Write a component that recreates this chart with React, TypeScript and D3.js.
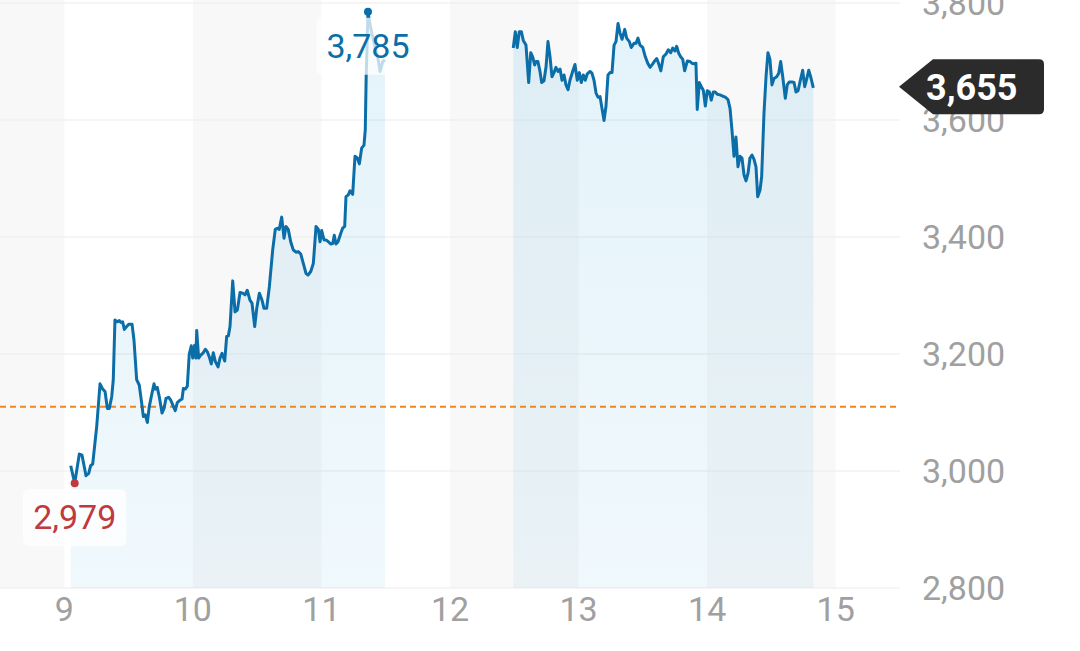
import React from 'react';
import * as d3 from 'd3';

// Session 1 (fractional day, price)
const seg1Time = [
  9.050, 9.081, 9.117, 9.138, 9.169, 9.190, 9.205, 9.221, 9.252, 9.278, 9.299, 9.317, 9.335, 9.350, 9.369, 9.381,
  9.394, 9.412, 9.428, 9.441, 9.454, 9.467, 9.485, 9.503, 9.527, 9.542, 9.563, 9.583, 9.602, 9.615, 9.630, 9.646,
  9.661, 9.682, 9.698, 9.708, 9.723, 9.739, 9.760, 9.776, 9.791, 9.812, 9.828, 9.848, 9.863, 9.879, 9.900, 9.916,
  9.926, 9.941, 9.957, 9.972, 9.988, 9.999, 10.014, 10.024, 10.030, 10.045, 10.061, 10.081, 10.097, 10.112, 10.128,
  10.143, 10.159, 10.175, 10.196, 10.211, 10.227, 10.248, 10.263, 10.276, 10.289, 10.310, 10.328, 10.346, 10.367,
  10.388, 10.406, 10.423, 10.444, 10.460, 10.481, 10.497, 10.517, 10.538, 10.553, 10.574, 10.595, 10.621, 10.641,
  10.657, 10.672, 10.691, 10.709, 10.724, 10.742, 10.761, 10.781, 10.802, 10.820, 10.839, 10.859, 10.880, 10.896,
  10.917, 10.937, 10.958, 10.976, 10.989, 11.002, 11.020, 11.036, 11.053, 11.072, 11.088, 11.100, 11.113, 11.129,
  11.150, 11.165, 11.181, 11.191, 11.209, 11.222, 11.243, 11.261, 11.279, 11.295, 11.313, 11.331, 11.341, 11.348,
  11.354, 11.362, 11.372, 11.391, 11.417, 11.442, 11.456, 11.477, 11.494,
];
const seg1Price = [
  3009, 2979, 3029, 3027, 2992, 2996, 3009, 3012, 3076, 3149, 3140, 3136, 3107, 3107, 3127, 3156,
  3258, 3255, 3257, 3254, 3255, 3242, 3247, 3251, 3251, 3224, 3156, 3147, 3116, 3093, 3096, 3083,
  3110, 3133, 3149, 3140, 3143, 3127, 3099, 3107, 3124, 3126, 3121, 3111, 3103, 3117, 3121, 3123,
  3141, 3140, 3145, 3200, 3214, 3193, 3215, 3193, 3240, 3193, 3198, 3202, 3208, 3204, 3195,
  3183, 3202, 3187, 3178, 3193, 3201, 3188, 3230, 3231, 3247, 3325, 3272, 3275, 3305,
  3304, 3301, 3309, 3292, 3287, 3247, 3278, 3304, 3292, 3278, 3278, 3315, 3378, 3413,
  3415, 3413, 3434, 3398, 3418, 3413, 3392, 3378, 3374, 3375, 3371, 3355, 3338, 3335,
  3341, 3355, 3418, 3413, 3392, 3411, 3395, 3395, 3392, 3388, 3389, 3403, 3388, 3392,
  3406, 3415, 3418, 3469, 3472, 3479, 3473, 3538, 3535, 3525, 3552, 3557, 3583, 3674,
  3720, 3785, 3771, 3749, 3725, 3703, 3683, 3700, 3703,
];

// Session 2
const seg2Time = [
  12.492, 12.508, 12.523, 12.539, 12.555, 12.570, 12.591, 12.612, 12.628, 12.643, 12.659, 12.669, 12.684, 12.700,
  12.713, 12.731, 12.747, 12.762, 12.778, 12.793, 12.809, 12.824, 12.840, 12.856, 12.871, 12.887, 12.902, 12.918,
  12.933, 12.954, 12.972, 12.990, 13.006, 13.021, 13.037, 13.052, 13.068, 13.089, 13.104, 13.120, 13.136, 13.151,
  13.167, 13.182, 13.198, 13.213, 13.229, 13.244, 13.260, 13.276, 13.291, 13.307, 13.322, 13.338, 13.359, 13.374,
  13.395, 13.410, 13.431, 13.447, 13.462, 13.478, 13.499, 13.519, 13.540, 13.556, 13.577, 13.592, 13.608, 13.623,
  13.640, 13.659, 13.680, 13.698, 13.717, 13.732, 13.750, 13.763, 13.779, 13.794, 13.810, 13.825, 13.846, 13.867,
  13.882, 13.898, 13.913, 13.923, 13.939, 13.955, 13.970, 13.986, 14.001, 14.017, 14.032, 14.048, 14.063, 14.079,
  14.100, 14.121, 14.141, 14.162, 14.178, 14.193, 14.209, 14.224, 14.240, 14.256, 14.271, 14.287, 14.302, 14.318,
  14.333, 14.349, 14.364, 14.380, 14.393, 14.411, 14.424, 14.442, 14.458, 14.473, 14.489, 14.504, 14.520, 14.541,
  14.557, 14.572, 14.588, 14.608, 14.623, 14.639, 14.660, 14.676, 14.691, 14.707, 14.722, 14.743, 14.759, 14.774,
  14.790, 14.805, 14.826,
];
const seg2Price = [
  3723, 3751, 3724, 3751, 3751, 3736, 3728, 3664, 3715, 3708, 3694, 3700, 3700, 3683,
  3664, 3667, 3691, 3734, 3708, 3674, 3681, 3690, 3683, 3687, 3668, 3677, 3660, 3652,
  3668, 3683, 3695, 3668, 3681, 3664, 3677, 3668, 3679, 3683, 3680, 3668, 3646, 3639,
  3640, 3620, 3599, 3623, 3677, 3681, 3681, 3728, 3734, 3765, 3749, 3738, 3755, 3740,
  3734, 3724, 3731, 3731, 3740, 3728, 3724, 3708, 3696, 3690, 3696, 3701, 3705, 3696,
  3684, 3708, 3713, 3720, 3715, 3723, 3718, 3726, 3714, 3708, 3704, 3684, 3701, 3700,
  3697, 3696, 3697, 3618, 3664, 3657, 3651, 3624, 3650, 3648, 3634, 3648, 3648, 3644,
  3643, 3641, 3639, 3635, 3620, 3583, 3538, 3571, 3520, 3538, 3535, 3506, 3496, 3509,
  3535, 3540, 3533, 3520, 3469, 3480, 3503, 3611, 3674, 3715, 3703, 3660, 3671, 3674,
  3680, 3700, 3674, 3637, 3660, 3665, 3665, 3664, 3648, 3650, 3665, 3685, 3657, 3670,
  3685, 3674, 3655,
];

const yTicks = [2800, 3000, 3200, 3400, 3600, 3800];
const xTicks = [9, 10, 11, 12, 13, 14, 15];
const bandStart = [8.5, 10, 12, 14];
const bandEnd = [9, 11, 13, 15];
const referencePrice = 3110;
const xDomain = [8.5, 15.5];
const yDomain = [2800, 3800];

type Pt = { t: number; p: number };

const FONT = 'Roboto, "Noto Sans", sans-serif';
const LINE_COLOR = '#0b6ea8';
const LOW_COLOR = '#c0393d';
const AXIS_TEXT = '#a0a0a0';

function labelWidth(s: string, fs: number) {
  let w = 0;
  for (const c of s) w += c === ',' ? 0.2 : 0.562;
  return w * fs;
}

export default function App() {
  const W = 1080;
  const H = 651;
  const plotRight = 900;
  const plotBottom = 588;
  const plotTop = 3;

  const x = d3.scaleLinear().domain(xDomain).range([0, plotRight]);
  const y = d3.scaleLinear().domain(yDomain).range([plotBottom, plotTop]);

  const seg1: Pt[] = seg1Time.map((t, i) => ({ t, p: seg1Price[i] }));
  const seg2: Pt[] = seg2Time.map((t, i) => ({ t, p: seg2Price[i] }));
  const all = seg1.concat(seg2);

  const line = d3.line<Pt>().x((d) => x(d.t)).y((d) => y(d.p));
  const area = d3.area<Pt>().x((d) => x(d.t)).y0(plotBottom).y1((d) => y(d.p));

  const maxPt = all[d3.maxIndex(all, (d) => d.p)];
  const minPt = all[d3.minIndex(all, (d) => d.p)];
  const last = seg2[seg2.length - 1];
  const fmt = d3.format(',');

  const fs = 34;
  const boxH = 57;
  const pad = 10;

  const maxLabel = fmt(maxPt.p);
  const minLabel = fmt(minPt.p);
  const maxW = labelWidth(maxLabel, fs) + pad * 2;
  const minW = labelWidth(minLabel, fs) + pad * 2;
  const maxBoxTop = y(maxPt.p) + 6;
  const minBoxTop = y(minPt.p) + 6;

  const lastY = y(last.p) - 1;
  const tipX = plotRight - 1;
  const cL = tipX + 34;
  const cR = 1044;
  const hh = 27.5;
  const r = 5;
  const calloutPath = `M${tipX},${lastY} L${cL},${lastY - hh} L${cR - r},${lastY - hh} Q${cR},${lastY - hh} ${cR},${lastY - hh + r} L${cR},${lastY + hh - r} Q${cR},${lastY + hh} ${cR - r},${lastY + hh} L${cL},${lastY + hh} Z`;

  return (
    <svg width={W} height={H} style={{ position: 'absolute', left: 0, top: 0, background: '#fff' }} fontFamily={FONT}>
      <defs>
        <linearGradient id="areaGrad" gradientUnits="userSpaceOnUse" x1="0" y1={plotTop} x2="0" y2={plotBottom}>
          <stop offset="0" stopColor="#2a9fd8" stopOpacity={0.13} />
          <stop offset="1" stopColor="#2a9fd8" stopOpacity={0.07} />
        </linearGradient>
      </defs>
      <rect x={0} y={0} width={W} height={H} fill="#fff" />
      {bandStart.map((b, i) => (
        <rect key={i} x={x(b)} y={0} width={x(bandEnd[i]) - x(b)} height={plotBottom} fill="#f8f8f8" />
      ))}
      {yTicks.map((v) => (
        <line key={v} x1={0} x2={plotRight} y1={y(v)} y2={y(v)} stroke="#ebebeb" strokeWidth={1.2} />
      ))}
      <path d={area(seg1) || ''} fill="url(#areaGrad)" />
      <path d={area(seg2) || ''} fill="url(#areaGrad)" />
      <line x1={0} x2={plotRight} y1={y(referencePrice)} y2={y(referencePrice)} stroke="#f0861d" strokeWidth={2} strokeDasharray="6 4" />
      <path d={line(seg1) || ''} fill="none" stroke={LINE_COLOR} strokeWidth={3} strokeLinejoin="round" />
      <path d={line(seg2) || ''} fill="none" stroke={LINE_COLOR} strokeWidth={3} strokeLinejoin="round" />

      {/* high label */}
      <rect x={x(maxPt.t) - maxW / 2} y={maxBoxTop} width={maxW} height={boxH} rx={6} fill="#fff" fillOpacity={0.75} />
      <circle cx={x(maxPt.t)} cy={y(maxPt.p)} r={4} fill={LINE_COLOR} />
      <text x={x(maxPt.t)} y={maxBoxTop + 40} textAnchor="middle" fontSize={fs} fill={LINE_COLOR}>{maxLabel}</text>

      {/* low label */}
      <rect x={x(minPt.t) - minW / 2} y={minBoxTop} width={minW} height={boxH} rx={6} fill="#fff" fillOpacity={0.75} />
      <circle cx={x(minPt.t)} cy={y(minPt.p)} r={4} fill={LOW_COLOR} />
      <text x={x(minPt.t)} y={minBoxTop + 40} textAnchor="middle" fontSize={fs} fill={LOW_COLOR}>{minLabel}</text>

      {/* axes labels */}
      {yTicks.map((v) => (
        <text key={v} x={922} y={y(v) + 12} fontSize={fs} fill={AXIS_TEXT}>{fmt(v)}</text>
      ))}
      {xTicks.map((v) => (
        <text key={v} x={x(v)} y={621} textAnchor="middle" fontSize={fs} fill={AXIS_TEXT}>{v}</text>
      ))}

      {/* last price callout */}
      <path d={calloutPath} fill="#2b2b2b" />
      <text x={926} y={lastY + 13} fontSize={36} fontWeight="bold" fill="#fff">{fmt(last.p)}</text>
    </svg>
  );
}
